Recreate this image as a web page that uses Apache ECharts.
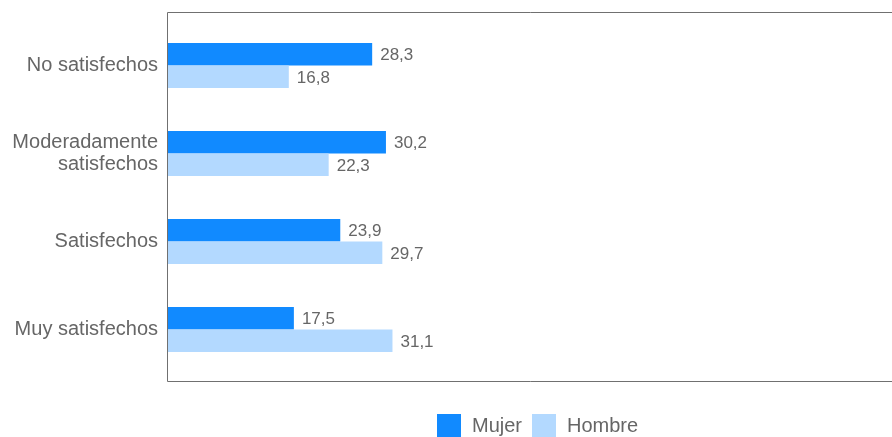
<!DOCTYPE html>
<html>
<head>
<meta charset="utf-8">
<script src="https://cdn.jsdelivr.net/npm/echarts@6/dist/echarts.min.js"></script>
<style>html,body{margin:0;padding:0;background:#fff}#c{width:892px;height:437px}</style>
</head>
<body>
<div id="c"></div>
<script>
const categories = ["No satisfechos", "Moderadamente\nsatisfechos", "Satisfechos", "Muy satisfechos"];
const seriesNames = ["Mujer", "Hombre"];
const mujer = [28.3, 30.2, 23.9, 17.5];
const hombre = [16.8, 22.3, 29.7, 31.1];
const colors = ["#118AFF", "#B3D9FF"];

const chart = echarts.init(document.getElementById('c'), null, {renderer: 'canvas'});
const font = 'Liberation Sans, Arial, sans-serif';
const fmt = p => String(p.value).replace('.', ',');
function mk(name, data, color) {
  return {
    name, type: 'bar', data, barWidth: 22.5, barGap: '0%',
    itemStyle: {color},
    label: {show: true, position: 'right', distance: 7, offset: [1, 1.5], formatter: fmt,
      color: '#666', fontSize: 17, fontFamily: font},
    emphasis: {disabled: true}
  };
}
chart.setOption({
  animation: false,
  color: colors,
  grid: {left: 167, right: -5, top: 21.5, height: 352, containLabel: false},
  xAxis: {type: 'value', min: 0, max: 100, show: false},
  yAxis: {type: 'category', data: categories, inverse: true,
    axisLine: {show: false}, axisTick: {show: false}, splitLine: {show: false},
    axisLabel: {margin: 9, color: '#666', fontSize: 20, fontFamily: font, lineHeight: 22, align: 'right',
      padding: [4, 0, 0, 0]}},
  legend: {left: 437, top: 414, padding: 0, itemWidth: 24, itemHeight: 24, itemGap: 10, icon: 'rect',
    data: seriesNames,
    textStyle: {color: '#666', fontSize: 20, fontFamily: font, padding: [4, 0, 0, 6]}},
  graphic: [{type: 'rect', shape: {x: 167.5, y: 12.5, width: 730, height: 369},
    style: {fill: 'none', stroke: '#707070', lineWidth: 1}, silent: true, z: 10}],
  series: [mk(seriesNames[0], mujer, colors[0]), mk(seriesNames[1], hombre, colors[1])]
});
</script>
</body>
</html>
